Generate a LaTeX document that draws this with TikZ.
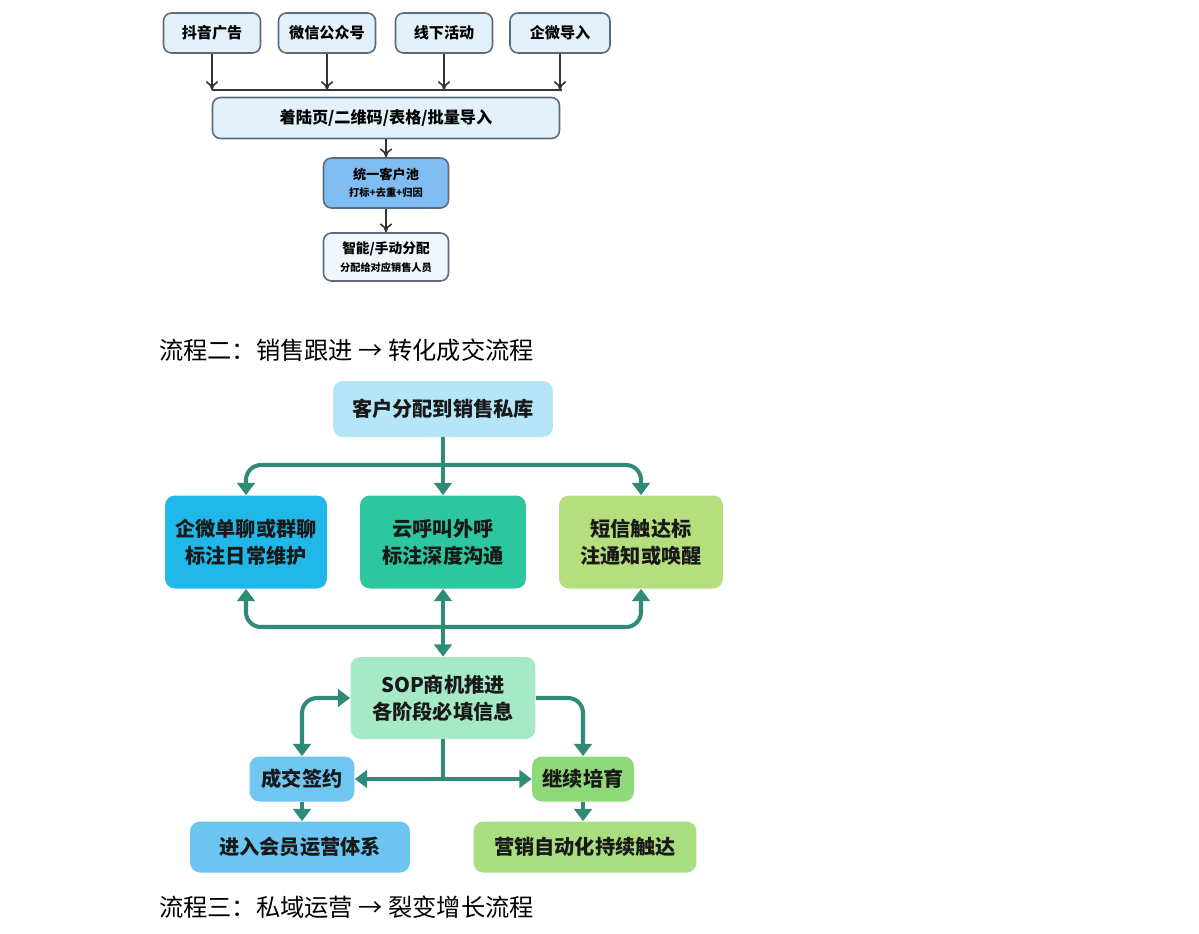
\documentclass[tikz,border=0pt]{standalone}
\usepackage{fontspec}
\setmainfont{Noto Sans CJK SC}
\usetikzlibrary{arrows.meta}

\definecolor{boxline}{HTML}{5B6B7B}
\definecolor{srcfill}{HTML}{E3F1FA}
\definecolor{poolfill}{HTML}{7FBCF2}
\definecolor{wire}{HTML}{333333}
\definecolor{flowline}{HTML}{2F8A78}

\begin{document}
\begin{tikzpicture}[
    x=0.02cm, y=-0.02cm,
    src/.style={rectangle, draw=boxline, line width=0.9pt, rounded corners=0.16cm, fill=srcfill, minimum width=1.94cm, minimum height=0.8cm, align=center, font=\fontsize{8.6}{10}\selectfont\bfseries},
    card/.style={rectangle, rounded corners=0.2cm, align=center, text=black!90, font=\fontsize{11.5}{15.3}\selectfont\bfseries},
    feed/.style={>={To[length=5pt,width=7pt]}, line width=0.9pt, draw=wire},
    flow/.style={>={Triangle[length=7pt,width=10pt]}, line width=2.3pt, draw=flowline, rounded corners=0.3cm},
    title/.style={anchor=west, font=\fontsize{13.8}{15}\selectfont}
]
    \useasboundingbox (0,0) rectangle (1199,933);

    % 流程一：获客入口
    \node[src] (douyin) at (212,33) {抖音广告};
    \node[src] (wechat) at (327,33) {微信公众号};
    \node[src] (offline) at (444,33) {线下活动};
    \node[src, minimum width=2cm] (wecom) at (560,33) {企微导入};

    \coordinate (busL) at (212,90);
    \coordinate (busR) at (562,90);
    \draw[feed] (busL) -- (busR);
    \foreach \src in {douyin, wechat, offline, wecom}
        \draw[feed, ->] (\src) -- (\src |- busL);

    \node[src, minimum width=6.94cm, minimum height=0.82cm, font=\fontsize{9.2}{11}\selectfont\bfseries] (landing) at (386,118) {着陆页/二维码/表格/批量导入};

    \node[src, fill=poolfill, minimum width=2.5cm, minimum height=1cm, font=\fontsize{7.5}{10}\selectfont\bfseries] (pool) at (386,183) {
        统一客户池 \\
        {\fontsize{5.8}{7}\selectfont 打标+去重+归因}
    };
    \node[src, fill=blue!2!srcfill!50!white, minimum width=2.5cm, minimum height=0.96cm, font=\fontsize{7.8}{10}\selectfont\bfseries] (assign) at (386,257) {
        智能/手动分配 \\
        {\fontsize{5.8}{7}\selectfont 分配给对应销售人员}
    };

    \draw[feed, ->] (landing) -- (pool);
    \draw[feed, ->] (pool) -- (assign);

    % 流程二
    \node[title] (title2) at (153,350) {流程二：销售跟进 → 转化成交流程};

    \node[card, fill={rgb,255:red,181;green,230;blue,248}, minimum width=4.4cm, minimum height=1.12cm] (alloc) at (443,409) {客户分配到销售私库};

    \node[card, fill={rgb,255:red,31;green,184;blue,232}, minimum width=3.24cm, minimum height=1.86cm] (chat) at (246,542) {企微单聊或群聊\\标注日常维护};
    \node[card, fill={rgb,255:red,45;green,199;blue,159}, minimum width=3.32cm, minimum height=1.86cm] (call) at (443,542) {云呼叫外呼\\标注深度沟通};
    \node[card, fill={rgb,255:red,181;green,223;blue,124}, minimum width=3.28cm, minimum height=1.86cm] (sms) at (641,542) {短信触达标\\注通知或唤醒};

    \node[card, fill={rgb,255:red,165;green,233;blue,198}, minimum width=3.7cm, minimum height=1.64cm] (sop) at (443,698) {SOP商机推进\\各阶段必填信息};

    \node[card, fill={rgb,255:red,110;green,198;blue,241}, minimum width=2.1cm, minimum height=0.9cm] (deal) at (302,779) {成交签约};
    \node[card, fill={rgb,255:red,143;green,217;blue,123}, minimum width=2.04cm, minimum height=0.9cm] (nurture) at (583,779) {继续培育};

    \node[card, fill={rgb,255:red,108;green,196;blue,240}, minimum width=4.4cm, minimum height=1.02cm] (member) at (300,847) {进入会员运营体系};
    \node[card, fill={rgb,255:red,169;green,222;blue,128}, minimum width=4.46cm, minimum height=1.02cm] (auto) at (585,847) {营销自动化持续触达};

    \coordinate (split) at (443,465);
    \coordinate (merge) at (443,627);
    \coordinate (fork) at (443,779);

    \draw[flow] (alloc) -- (split);
    \draw[flow, ->] (split) -| (chat);
    \draw[flow, ->] (split) -- (call);
    \draw[flow, ->] (split) -| (sms);

    \draw[flow, ->] (merge) -| (chat);
    \draw[flow, ->] (merge) -| (sms);
    \draw[flow, <->] (call) -- (sop);

    \draw[flow, <->] (deal) |- (sop);
    \draw[flow, ->] (sop) -| (nurture);
    \draw[flow] (sop) -- (fork);
    \draw[flow, ->] (fork) -- (deal);
    \draw[flow, ->] (fork) -- (nurture);

    \draw[flow, ->] (deal) -- (deal |- member.north);
    \draw[flow, ->] (nurture) -- (nurture |- auto.north);

    % 流程三
    \node[title] (title3) at (153,907) {流程三：私域运营 → 裂变增长流程};
\end{tikzpicture}
\end{document}
